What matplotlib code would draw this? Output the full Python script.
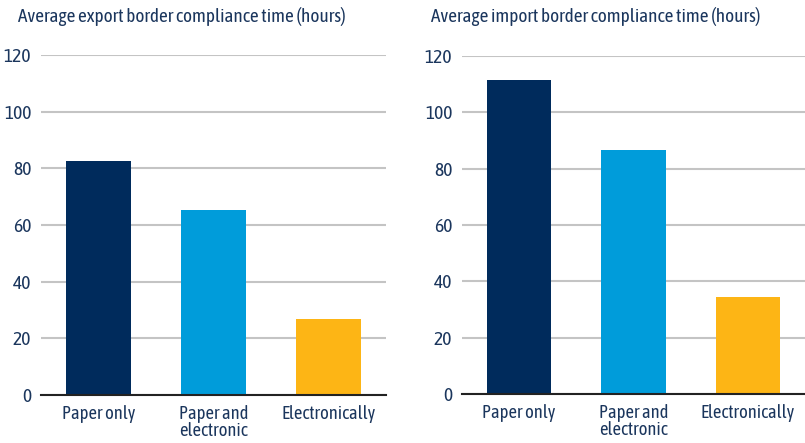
import matplotlib
matplotlib.use('Agg')
import matplotlib.pyplot as plt

categories = ['Paper only', 'Paper and\nelectronic', 'Electronically']
export_hours = [82.6, 65.4, 26.7]
import_hours = [111.5, 86.7, 34.5]
yticks = [0, 20, 40, 60, 80, 100, 120]

colors = ['#002B5C', '#009CDA', '#FDB515']
text_color = '#1B365D'

plt.rcParams['font.family'] = ['Asap Condensed', 'Archivo Narrow', 'DejaVu Sans']

fig = plt.figure(figsize=(8.05, 4.43), dpi=100)
ax1 = fig.add_axes([41 / 805, 48 / 443, 345 / 805, 340 / 443])
ax2 = fig.add_axes([462 / 805, 49 / 443, 343 / 805, 338 / 443])

panels = [(ax1, export_hours, 'Average export border compliance time (hours)', 18),
          (ax2, import_hours, 'Average import border compliance time (hours)', 431)]

for ax, vals, title, tx in panels:
    x = range(len(categories))
    ax.bar(x, vals, width=0.565, color=colors, zorder=3)
    ax.set_xlim(-0.5, 2.5)
    ax.set_ylim(0, 120)
    ax.set_yticks(yticks)
    ax.set_xticks(list(x))
    ax.set_xticklabels(categories, linespacing=0.95)
    ax.yaxis.grid(True, color='#C4C4C4', linewidth=1.5, zorder=0)
    ax.set_axisbelow(True)
    for s in ['top', 'right', 'left']:
        ax.spines[s].set_visible(False)
    ax.spines['bottom'].set_color('#222222')
    ax.spines['bottom'].set_linewidth(1.5)
    ax.spines['bottom'].set_zorder(4)
    ax.tick_params(axis='x', length=0, labelsize=13.3, labelcolor=text_color, pad=7)
    ax.tick_params(axis='y', length=0, labelsize=14, labelcolor=text_color, pad=7)
    fig.text(tx / 805, 1 - 17 / 443, title, fontsize=13.8, color=text_color, va='center', ha='left')

fig.savefig('out.png', dpi=100)
